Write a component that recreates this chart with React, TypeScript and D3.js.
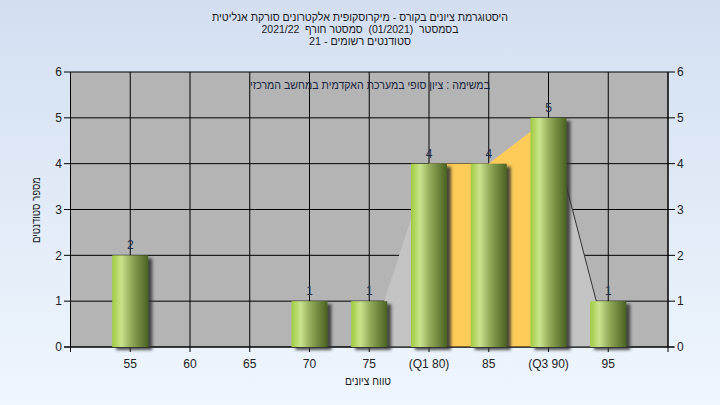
import React from "react";
import * as d3 from "d3";

const categories = [55, 60, 65, 70, 75, 80, 85, 90, 95];
const counts = [2, 0, 0, 1, 1, 4, 4, 5, 1];
const tickLabels = ["55", "60", "65", "70", "75", "(Q1 80)", "85", "(Q3 90)", "95"];
const axisTicks = [50, 55, 60, 65, 70, 75, 80, 85, 90, 95, 100];
const yTicks = [0, 1, 2, 3, 4, 5, 6];
const curveX = [75, 80, 85, 90, 95];
const curveY = [0, 4, 4, 5, 0];
const q1 = 80;
const q3 = 90;

const titleLines = [
  "היסטוגרמת ציונים בקורס - מיקרוסקופית אלקטרונים סורקת אנליטית",
  "בסמסטר\u00a0\u00a0(01/2021)\u00a0\u00a0סמסטר חורף\u00a0\u00a02021/22",
  "סטודנטים רשומים - 21",
];
const titleWidths = [296, 197, 102];
const noteText = "במשימה : ציון סופי במערכת האקדמית במחשב המרכזי";
const yTitle = "מספר סטודנטים";
const xTitle = "טווח ציונים";

const W = 720;
const H = 405;
const L = 70.5;
const R = 668;
const T = 72;
const B = 347;

export default function App() {
  const x = d3.scaleLinear().domain([50, 100]).range([L, R]);
  const y = d3.scaleLinear().domain([0, 6]).range([B, T]);
  const barW = 36;
  const font = "'Liberation Sans', Arial, sans-serif";

  const pts = curveX.map((cx, i) => ({ x: cx, y: curveY[i] }));
  const area = d3
    .area<{ x: number; y: number }>()
    .x((d) => x(d.x))
    .y0(y(0))
    .y1((d) => y(d.y));
  const yellowPts = pts.filter((p) => p.x >= q1 && p.x <= q3);
  const lastTwo = pts.slice(pts.length - 2);
  const line = d3
    .line<{ x: number; y: number }>()
    .x((d) => x(d.x))
    .y((d) => y(d.y));

  return (
    <svg
      width={W}
      height={H}
      style={{ position: "absolute", left: 0, top: 0 }}
      fontFamily={font}
    >
      <defs>
        <linearGradient id="bg" x1="0" y1="0" x2="0" y2="1">
          <stop offset="0%" stopColor="#d3dff1" />
          <stop offset="100%" stopColor="#eff6fd" />
        </linearGradient>
        <linearGradient id="bar" x1="0" y1="0" x2="1" y2="0">
          <stop offset="0%" stopColor="#a0cb3e" />
          <stop offset="25%" stopColor="#c9e38d" />
          <stop offset="55%" stopColor="#8ea655" />
          <stop offset="100%" stopColor="#4a6221" />
        </linearGradient>
        <filter id="shadow" x="-20%" y="-20%" width="150%" height="150%">
          <feDropShadow dx="4" dy="3" stdDeviation="1.8" floodColor="#303030" floodOpacity="0.85" />
        </filter>
      </defs>
      <rect x={0} y={0} width={W} height={H} fill="url(#bg)" />

      {titleLines.map((t, i) => (
        <text
          key={i}
          x={360}
          y={21 + i * 12}
          textAnchor="middle"
          direction="rtl"
          fontSize={11}
          textLength={titleWidths[i]}
          lengthAdjust="spacingAndGlyphs"
          fill="#1a1a1a"
        >
          {t}
        </text>
      ))}

      <rect x={L} y={T} width={R - L} height={B - T} fill="#b4b4b4" />

      {yTicks.map((t) => (
        <line key={"gy" + t} x1={L} x2={R} y1={y(t)} y2={y(t)} stroke="#000" strokeWidth={1} />
      ))}
      {axisTicks.map((t) => (
        <line key={"gx" + t} x1={x(t)} x2={x(t)} y1={T} y2={B} stroke="#000" strokeWidth={1} />
      ))}

      <path d={area(pts) || ""} fill="#c3c3c3" />
      <path d={area(yellowPts) || ""} fill="#fdcb58" />
      <path d={line(lastTwo) || ""} fill="none" stroke="#333" strokeWidth={1} />

      <text
        x={370}
        y={89}
        textAnchor="middle"
        direction="rtl"
        fontSize={12}
        textLength={240}
        lengthAdjust="spacingAndGlyphs"
        fill="#1a2440"
      >
        {noteText}
      </text>

      {/* axes */}
      <line x1={64} x2={674} y1={B} y2={B} stroke="#000" />
      <line x1={L} x2={L} y1={T} y2={B} stroke="#000" />
      <line x1={R} x2={R} y1={T} y2={B} stroke="#000" />
      {yTicks.map((t) => (
        <g key={"yt" + t}>
          <line x1={64} x2={L} y1={y(t)} y2={y(t)} stroke="#000" />
          <line x1={R} x2={675} y1={y(t)} y2={y(t)} stroke="#000" />
          <text x={62} y={y(t)} dy="0.35em" textAnchor="end" fontSize={12} fill="#222">
            {t}
          </text>
          <text x={677} y={y(t)} dy="0.35em" textAnchor="start" fontSize={12} fill="#222">
            {t}
          </text>
        </g>
      ))}
      {axisTicks.map((t) => (
        <line key={"xt" + t} x1={x(t)} x2={x(t)} y1={B} y2={B + 5} stroke="#000" />
      ))}
      {categories.map((c, i) => (
        <text key={"xl" + c} x={x(c)} y={368} textAnchor="middle" fontSize={12} fill="#222" direction="ltr">
          {tickLabels[i]}
        </text>
      ))}

      {categories.map((c, i) =>
        counts[i] > 0 ? (
          <g key={"b" + c}>
            <rect
              x={x(c) - barW / 2}
              y={y(counts[i])}
              width={barW}
              height={y(0) - y(counts[i])}
              fill="url(#bar)"
              filter="url(#shadow)"
            />
            <text x={x(c)} y={y(counts[i]) - 6} textAnchor="middle" fontSize={12} fill="#1f2d4d">
              {counts[i]}
            </text>
          </g>
        ) : null
      )}

      <text
        transform={`translate(40,${210}) rotate(-90)`}
        textAnchor="middle"
        direction="rtl"
        fontSize={12}
        textLength={66}
        lengthAdjust="spacingAndGlyphs"
        fill="#1a1a1a"
      >
        {yTitle}
      </text>
      <text
        x={368}
        y={385}
        textAnchor="middle"
        direction="rtl"
        fontSize={12}
        textLength={46}
        lengthAdjust="spacingAndGlyphs"
        fill="#1a1a1a"
      >
        {xTitle}
      </text>
    </svg>
  );
}
